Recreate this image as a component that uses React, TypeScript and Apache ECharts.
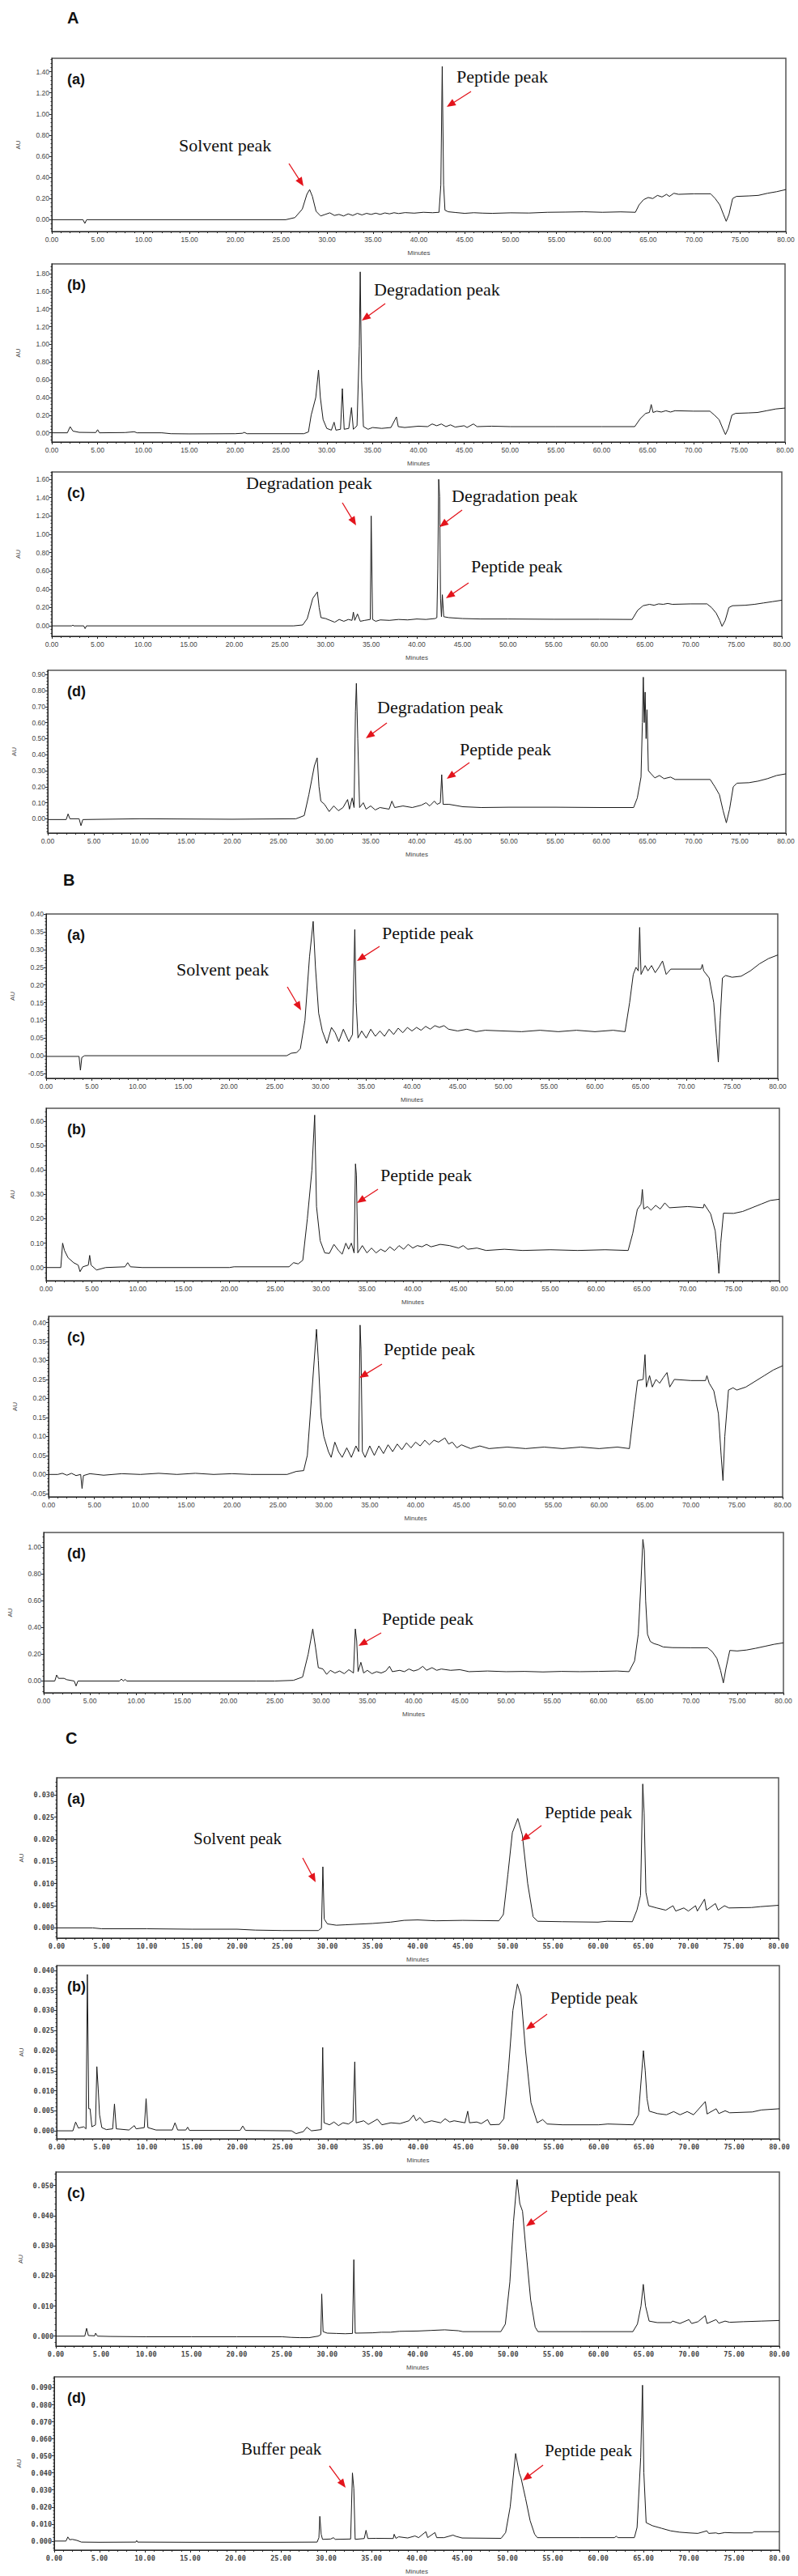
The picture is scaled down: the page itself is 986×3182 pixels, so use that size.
import React, { useEffect, useRef } from "react";
import * as echarts from "echarts";

// ---------- Data (time in minutes, absorbance in AU) ----------
const A_a: number[][] = [
  [0, 0], [3.4, 0], [3.6, -0.035], [3.8, 0], [25.5, 0], [26.5, 0.02], [27.3, 0.1], [27.8, 0.24], [28.1, 0.285], [28.4, 0.22],
  [28.8, 0.08], [29.3, 0.035], [29.8, 0.05], [30.3, 0.065], [30.8, 0.04], [31.3, 0.05], [31.8, 0.035], [32.3, 0.055], [32.8, 0.04],
  [33.3, 0.06], [33.8, 0.045], [34.3, 0.06], [34.8, 0.05], [35.3, 0.062], [35.8, 0.05], [36.3, 0.064], [36.8, 0.055], [37.3, 0.066],
  [37.8, 0.058], [38.5, 0.067], [39.5, 0.062], [40.5, 0.07], [41.5, 0.066], [42.2, 0.07], [42.4, 0.33], [42.55, 1.45], [42.7, 0.33],
  [42.85, 0.09], [43.2, 0.075], [44, 0.068], [45, 0.06], [46, 0.066], [47, 0.062], [48, 0.06], [50, 0.065], [52, 0.063], [54, 0.07],
  [56, 0.072], [58, 0.075], [60, 0.07], [62, 0.074], [63.6, 0.07], [64, 0.14], [64.5, 0.19], [65, 0.21], [65.5, 0.2], [66, 0.23],
  [66.5, 0.215], [67, 0.24], [67.3, 0.22], [67.8, 0.25], [68.3, 0.24], [70, 0.245], [71.8, 0.245], [72.3, 0.2], [72.8, 0.14],
  [73.2, 0.05], [73.5, -0.015], [73.8, 0.05], [74.2, 0.2], [74.6, 0.22], [76, 0.225], [77, 0.23], [78, 0.25], [79, 0.265], [80, 0.285],
];
const A_b: number[][] = [
  [0, 0], [1.7, 0], [2.0, 0.07], [2.3, 0.02], [3, 0.005], [4.8, 0.003], [5.0, 0.035], [5.2, 0], [8, 0.003], [9, 0.012], [9.3, 0],
  [12, 0], [13, -0.01], [15, -0.012], [20, -0.01], [20.8, -0.005], [21, 0.005], [21.3, -0.01], [27.5, -0.01], [28, 0.01], [28.3, 0.2],
  [28.8, 0.4], [29.1, 0.71], [29.3, 0.4], [29.6, 0.15], [30, 0.05], [30.5, 0.03], [30.8, 0.12], [31, 0.03], [31.5, 0.04], [31.7, 0.5],
  [31.9, 0.04], [32.4, 0.05], [32.7, 0.285], [32.9, 0.04], [33.3, 0.08], [33.55, 0.98], [33.65, 1.82], [33.8, 0.6], [34, 0.07],
  [34.5, 0.04], [35, 0.06], [36, 0.05], [37, 0.06], [37.6, 0.18], [37.8, 0.07], [38.5, 0.06], [40, 0.075], [41, 0.07], [41.5, 0.1],
  [42, 0.08], [42.5, 0.1], [43, 0.07], [43.5, 0.09], [44, 0.065], [45, 0.08], [45.3, 0.06], [46, 0.1], [46.4, 0.07], [48, 0.075],
  [50, 0.07], [55, 0.07], [60, 0.07], [63.6, 0.07], [64.2, 0.16], [64.8, 0.22], [65.2, 0.23], [65.4, 0.32], [65.6, 0.23], [66, 0.245],
  [66.5, 0.235], [67, 0.25], [67.5, 0.235], [68, 0.25], [70, 0.245], [71.8, 0.245], [72.3, 0.2], [72.8, 0.15], [73.2, 0.05],
  [73.5, -0.02], [73.8, 0.05], [74.2, 0.2], [74.6, 0.22], [76, 0.225], [77, 0.23], [78, 0.25], [79, 0.27], [80, 0.28],
];
const A_c: number[][] = [
  [0, 0], [2.2, 0], [2.3, 0.01], [2.4, 0], [3.5, 0], [3.65, -0.03], [3.8, 0], [26.5, 0], [27.5, 0.01], [28, 0.08], [28.6, 0.3],
  [29.1, 0.37], [29.3, 0.2], [29.5, 0.09], [30, 0.08], [30.5, 0.06], [31, 0.04], [31.5, 0.07], [32, 0.05], [32.5, 0.07], [32.9, 0.06],
  [33.05, 0.15], [33.2, 0.06], [33.5, 0.13], [33.8, 0.05], [34.3, 0.06], [34.9, 0.07], [35.0, 1.2], [35.15, 0.07], [35.5, 0.05],
  [36, 0.065], [37, 0.06], [38, 0.07], [39, 0.065], [40, 0.075], [41, 0.07], [42, 0.08], [42.2, 0.09], [42.3, 0.62], [42.4, 1.6],
  [42.5, 1.41], [42.6, 0.3], [42.7, 0.1], [42.8, 0.34], [42.95, 0.1], [43.5, 0.09], [45, 0.08], [47, 0.075], [50, 0.075], [55, 0.072],
  [60, 0.072], [63.6, 0.07], [64.2, 0.17], [64.8, 0.22], [65.5, 0.235], [66, 0.225], [66.5, 0.24], [67, 0.235], [67.5, 0.245],
  [68, 0.235], [70, 0.24], [71.8, 0.24], [72.3, 0.2], [72.8, 0.14], [73.2, 0.06], [73.45, -0.005], [73.8, 0.06], [74.2, 0.2],
  [74.6, 0.22], [76, 0.225], [77, 0.235], [78, 0.25], [79, 0.265], [80, 0.28],
];
const A_d: number[][] = [
  [0, -0.005], [2.0, -0.005], [2.2, 0.03], [2.4, 0.0], [3.4, 0.0], [3.6, -0.043], [3.8, -0.005], [10, 0], [20, -0.003], [26.9, 0],
  [27.8, 0.02], [28.3, 0.15], [28.9, 0.33], [29.2, 0.38], [29.4, 0.2], [29.6, 0.11], [30, 0.09], [30.5, 0.045], [31, 0.08],
  [31.5, 0.05], [32, 0.07], [32.5, 0.12], [32.7, 0.06], [33.0, 0.13], [33.2, 0.07], [33.35, 0.67], [33.45, 0.845], [33.6, 0.5],
  [33.8, 0.07], [34.2, 0.1], [34.5, 0.06], [35, 0.08], [35.5, 0.055], [36, 0.07], [37, 0.06], [37.3, 0.11], [37.6, 0.07],
  [38.5, 0.08], [39.5, 0.07], [40.5, 0.085], [41, 0.1], [41.4, 0.08], [41.9, 0.11], [42.2, 0.09], [42.55, 0.1], [42.7, 0.275],
  [42.85, 0.09], [43.5, 0.09], [45, 0.075], [47, 0.07], [50, 0.072], [55, 0.072], [60, 0.07], [63.5, 0.07], [63.9, 0.13],
  [64.3, 0.26], [64.45, 0.6], [64.55, 0.883], [64.65, 0.6], [64.75, 0.79], [64.85, 0.5], [64.95, 0.68], [65.1, 0.3], [65.4, 0.28],
  [65.8, 0.255], [66.3, 0.27], [66.8, 0.25], [67.5, 0.26], [68, 0.245], [70, 0.245], [71.8, 0.245], [72.3, 0.2], [72.8, 0.15],
  [73.2, 0.05], [73.55, -0.025], [73.9, 0.06], [74.3, 0.2], [74.7, 0.222], [76, 0.225], [77, 0.235], [78, 0.25], [79, 0.27], [80, 0.28],
];
const B_a: number[][] = [
  [0, -0.002], [3.6, -0.002], [3.75, -0.041], [3.9, -0.005], [4.2, 0], [26.3, 0], [26.8, 0.007], [27.4, 0.009], [27.8, 0.02],
  [28.3, 0.1], [28.8, 0.28], [29.2, 0.38], [29.45, 0.25], [29.8, 0.12], [30.2, 0.07], [30.7, 0.035], [31.2, 0.08], [31.6, 0.065],
  [32.0, 0.04], [32.5, 0.075], [33.1, 0.04], [33.5, 0.06], [33.75, 0.357], [33.9, 0.15], [34.1, 0.05], [34.5, 0.07], [35, 0.05],
  [35.5, 0.075], [36, 0.055], [36.5, 0.07], [37, 0.055], [37.5, 0.075], [38, 0.06], [38.5, 0.078], [39, 0.065], [39.5, 0.08],
  [40, 0.07], [40.5, 0.08], [41, 0.072], [41.5, 0.083], [42, 0.075], [42.5, 0.085], [43, 0.08], [43.5, 0.085], [44, 0.075],
  [45, 0.07], [46, 0.075], [47, 0.068], [48, 0.072], [50, 0.07], [52, 0.068], [54, 0.072], [56, 0.068], [58, 0.072], [60, 0.068],
  [62, 0.072], [63.3, 0.068], [63.8, 0.15], [64.2, 0.23], [64.5, 0.25], [64.75, 0.24], [64.9, 0.363], [65.05, 0.23], [65.5, 0.255],
  [65.8, 0.24], [66.2, 0.255], [66.6, 0.235], [67.0, 0.25], [67.4, 0.268], [67.8, 0.23], [68.3, 0.245], [70, 0.245], [71.6, 0.245],
  [71.75, 0.258], [71.9, 0.24], [72.5, 0.22], [73, 0.15], [73.3, 0.05], [73.5, -0.018], [73.7, 0.1], [73.95, 0.22], [74.3, 0.227],
  [75, 0.222], [76, 0.225], [77, 0.24], [78, 0.26], [79, 0.275], [80, 0.285],
];
const B_b: number[][] = [
  [0, 0], [1.6, 0], [1.8, 0.1], [2.0, 0.07], [2.4, 0.04], [3.0, 0.02], [3.5, 0.01], [3.7, -0.017], [4.0, 0.003], [4.6, 0.01],
  [4.75, 0.05], [4.9, 0.01], [5.5, -0.01], [6.5, 0], [8.6, 0.003], [8.9, 0.02], [9.2, 0.003], [10.5, 0], [20, 0], [20.5, 0.003],
  [26.5, 0.003], [27, 0.02], [27.5, 0.015], [28, 0.03], [28.5, 0.2], [29.0, 0.4], [29.3, 0.625], [29.5, 0.25], [29.9, 0.11],
  [30.4, 0.06], [30.9, 0.058], [31.4, 0.095], [31.9, 0.07], [32.3, 0.055], [32.7, 0.1], [33.0, 0.075], [33.3, 0.1], [33.6, 0.06],
  [33.75, 0.425], [33.85, 0.38], [34.0, 0.06], [34.5, 0.09], [35, 0.06], [35.5, 0.08], [36, 0.06], [36.5, 0.075], [37, 0.065],
  [37.5, 0.085], [38, 0.07], [38.5, 0.09], [39, 0.075], [39.5, 0.095], [40, 0.08], [40.5, 0.09], [41, 0.085], [41.5, 0.095],
  [42, 0.085], [43, 0.095], [44, 0.09], [45, 0.08], [45.5, 0.09], [46, 0.075], [47, 0.08], [48, 0.07], [50, 0.075], [52, 0.07],
  [55, 0.073], [58, 0.07], [61, 0.073], [63.5, 0.07], [64, 0.14], [64.5, 0.238], [64.9, 0.26], [65.05, 0.32], [65.2, 0.24],
  [65.6, 0.25], [66, 0.235], [66.5, 0.255], [67, 0.24], [67.5, 0.265], [68, 0.245], [70, 0.25], [71.7, 0.245], [71.8, 0.26],
  [72.5, 0.22], [73, 0.15], [73.25, 0.05], [73.4, -0.024], [73.6, 0.1], [73.9, 0.223], [75, 0.222], [76, 0.23], [77, 0.245],
  [78, 0.26], [79, 0.275], [80, 0.28],
];
const B_c: number[][] = [
  [0, 0], [1, 0], [1.5, 0.003], [2, -0.002], [2.5, 0.003], [3, -0.003], [3.5, 0], [3.65, -0.037], [3.8, -0.003], [4.5, 0.002],
  [6, -0.002], [8, 0.002], [10, 0], [12, 0.003], [14, 0], [16, 0.003], [18, 0], [20, 0.002], [22, 0], [26, 0], [27, 0.008],
  [27.8, 0.01], [28.2, 0.05], [28.8, 0.25], [29.2, 0.382], [29.4, 0.3], [29.7, 0.15], [30, 0.1], [30.5, 0.06], [30.8, 0.045],
  [31.2, 0.085], [31.6, 0.06], [32, 0.045], [32.5, 0.07], [33, 0.045], [33.5, 0.075], [33.8, 0.06], [33.95, 0.393], [34.05, 0.33],
  [34.2, 0.06], [34.5, 0.045], [35, 0.075], [35.5, 0.05], [36, 0.075], [36.5, 0.055], [37, 0.078], [37.5, 0.06], [38, 0.08],
  [38.5, 0.065], [39, 0.083], [39.5, 0.07], [40, 0.085], [40.5, 0.075], [41, 0.09], [41.5, 0.078], [42, 0.09], [42.5, 0.085],
  [43.2, 0.096], [43.6, 0.08], [44, 0.085], [44.5, 0.07], [45, 0.078], [46, 0.068], [47, 0.075], [48, 0.068], [50, 0.072],
  [52, 0.068], [54, 0.072], [56, 0.068], [58, 0.072], [60, 0.068], [62, 0.072], [63.3, 0.068], [63.8, 0.17], [64.2, 0.247],
  [64.8, 0.25], [65.0, 0.315], [65.15, 0.23], [65.5, 0.26], [65.8, 0.23], [66.2, 0.25], [66.6, 0.24], [67, 0.255], [67.4, 0.268],
  [67.7, 0.23], [68.2, 0.25], [70, 0.247], [71.6, 0.247], [71.75, 0.26], [72, 0.24], [72.5, 0.22], [73, 0.16], [73.3, 0.05],
  [73.5, -0.016], [73.7, 0.1], [74.1, 0.222], [74.6, 0.228], [75, 0.222], [76, 0.23], [77, 0.245], [78, 0.26], [79, 0.275], [80, 0.286],
];
const B_d: number[][] = [
  [0, 0], [1.2, 0], [1.4, 0.045], [1.6, 0.02], [2.2, 0.02], [2.5, 0.01], [3.3, 0], [3.5, -0.037], [3.7, 0], [8.2, 0], [8.4, 0.015],
  [8.6, 0], [8.8, 0.012], [9, 0], [23, 0], [25, 0], [27, 0.005], [28, 0.03], [28.6, 0.2], [29.1, 0.39], [29.4, 0.25], [29.7, 0.1],
  [30.2, 0.09], [30.6, 0.05], [31, 0.08], [31.5, 0.06], [32, 0.075], [32.5, 0.055], [33, 0.085], [33.5, 0.06], [33.7, 0.39],
  [33.85, 0.3], [34, 0.07], [34.3, 0.14], [34.6, 0.06], [35, 0.08], [35.5, 0.055], [36, 0.07], [36.5, 0.06], [37, 0.075],
  [37.4, 0.11], [37.7, 0.07], [38.5, 0.08], [39, 0.07], [39.5, 0.09], [40, 0.075], [40.5, 0.085], [41, 0.11], [41.4, 0.08],
  [42, 0.1], [42.5, 0.08], [43, 0.09], [44, 0.08], [45, 0.085], [46, 0.07], [48, 0.075], [50, 0.07], [52, 0.072], [54, 0.068],
  [56, 0.072], [58, 0.07], [60, 0.072], [62, 0.075], [63.3, 0.07], [63.9, 0.15], [64.3, 0.35], [64.6, 0.75], [64.8, 1.06],
  [64.95, 0.98], [65.1, 0.6], [65.3, 0.35], [65.6, 0.296], [66, 0.28], [66.5, 0.27], [67, 0.255], [68, 0.25], [70, 0.249],
  [71.8, 0.249], [72.3, 0.22], [72.8, 0.17], [73.2, 0.08], [73.5, -0.014], [73.8, 0.1], [74.2, 0.229], [75, 0.225], [76, 0.232],
  [77, 0.245], [78, 0.26], [79, 0.275], [80, 0.286],
];
const C_a: number[][] = [
  [0, 0], [4, 0], [5, -0.0002], [10, -0.0002], [15, -0.0003], [20, -0.0003], [22, -0.0005], [25, -0.0006], [29, -0.0006],
  [29.35, 0], [29.5, 0.0138], [29.65, 0.002], [30, 0.0009], [31, 0.0006], [32, 0.0007], [33, 0.0008], [35, 0.001], [37, 0.0013],
  [38.5, 0.0017], [40, 0.0018], [42, 0.0016], [45, 0.0017], [49, 0.0016], [49.5, 0.003], [50, 0.012], [50.5, 0.0215],
  [51.1, 0.0247], [51.6, 0.021], [52.2, 0.01], [52.8, 0.0025], [53.3, 0.0015], [56, 0.0014], [60, 0.0013], [61, 0.0015],
  [63.8, 0.0014], [64.3, 0.004], [64.7, 0.0073], [64.95, 0.0325], [65.1, 0.026], [65.3, 0.008], [65.6, 0.005], [66.5, 0.0045],
  [67.5, 0.004], [68.3, 0.005], [68.6, 0.0038], [69.5, 0.0045], [70, 0.0038], [70.8, 0.005], [71, 0.0038], [71.8, 0.0065],
  [72, 0.004], [73, 0.0055], [73.3, 0.004], [74, 0.005], [74.5, 0.0045], [77, 0.0046], [78, 0.0048], [80, 0.0051],
];
const C_b: number[][] = [
  [0, 0], [1.8, 0], [2.1, 0.0022], [2.4, 0.0007], [3.0, 0.001], [3.25, 0.0005], [3.4, 0.039], [3.55, 0.0055], [3.7, 0.0055],
  [3.9, 0.001], [4.3, 0.0015], [4.45, 0.016], [4.6, 0.0105], [4.75, 0.004], [5, 0.0008], [5.5, 0.0003], [6.2, 0.0005],
  [6.4, 0.0067], [6.6, 0.0005], [8, 0.0002], [8.6, 0.0013], [8.8, 0.0005], [9.7, 0.0008], [9.9, 0.008], [10.1, 0.0008],
  [11, 0.0002], [12.8, 0.0002], [13.1, 0.002], [13.4, 0.0002], [14.3, 0.0002], [14.5, 0.0009], [14.7, 0.0001], [20.3, 0.0001],
  [20.6, 0.0012], [20.9, 0.0001], [26, 0], [26.5, -0.0007], [27.3, -0.0002], [27.7, 0.0009], [28.2, 0], [29.3, 0.0003],
  [29.45, 0.0208], [29.6, 0.002], [30.2, 0.0015], [30.7, 0.0022], [31.2, 0.0013], [31.7, 0.002], [32.3, 0.0017], [32.8, 0.0025],
  [33.0, 0.0172], [33.15, 0.002], [34, 0.0025], [34.5, 0.0016], [35.5, 0.0029], [36, 0.0015], [37, 0.002], [38, 0.0018],
  [39, 0.0025], [39.5, 0.0039], [39.8, 0.0025], [40.2, 0.0033], [40.7, 0.002], [41.5, 0.0025], [42.5, 0.002], [43, 0.003],
  [43.5, 0.0022], [44, 0.0025], [45.2, 0.002], [45.5, 0.0049], [45.7, 0.002], [46.5, 0.0022], [47, 0.0018], [47.7, 0.0028],
  [48, 0.0015], [49, 0.0016], [49.5, 0.003], [50, 0.015], [50.5, 0.03], [51.0, 0.0366], [51.4, 0.0337], [51.9, 0.02],
  [52.5, 0.007], [53.2, 0.002], [53.8, 0.0028], [54.3, 0.0017], [56, 0.0015], [60, 0.0015], [61, 0.0017], [63.8, 0.0015],
  [64.4, 0.004], [64.95, 0.02], [65.15, 0.015], [65.35, 0.008], [65.6, 0.0049], [66.5, 0.0043], [67.5, 0.004], [68.3, 0.0048],
  [69, 0.004], [69.8, 0.0048], [70.5, 0.004], [71.8, 0.0073], [72, 0.0042], [73, 0.0055], [73.3, 0.0043], [74, 0.005],
  [74.5, 0.0045], [77, 0.0047], [78, 0.0052], [80, 0.0055],
];
const C_c: number[][] = [
  [0, 0], [3.2, 0], [3.4, 0.0026], [3.6, 0.0002], [4.3, 0.0001], [4.4, 0.001], [4.6, 0], [6, -0.0001], [10, -0.0002],
  [15, -0.0002], [20, -0.0002], [25, -0.0002], [26, -0.0004], [27, -0.0005], [28, -0.0005], [29, 0], [29.3, 0.0005],
  [29.4, 0.014], [29.55, 0.0015], [30, 0.001], [31, 0.0009], [32, 0.0008], [32.8, 0.0009], [32.95, 0.0254], [33.1, 0.001],
  [35, 0.0011], [36, 0.0013], [37, 0.0013], [38, 0.0016], [40, 0.0017], [41.5, 0.0019], [43, 0.0021], [44.5, 0.0018],
  [45, 0.0015], [49.2, 0.0015], [49.7, 0.004], [50.2, 0.018], [50.6, 0.038], [51.0, 0.052], [51.3, 0.044], [51.6, 0.0415],
  [52, 0.028], [52.5, 0.012], [53, 0.003], [53.3, 0.0015], [58, 0.0015], [63.8, 0.0015], [64.3, 0.004], [64.7, 0.01],
  [64.95, 0.0172], [65.2, 0.01], [65.6, 0.005], [66.5, 0.0045], [68, 0.0045], [68.2, 0.005], [69, 0.0042], [70, 0.0055],
  [70.3, 0.0042], [71, 0.0048], [71.8, 0.0068], [72, 0.0042], [73, 0.0055], [73.3, 0.0043], [74, 0.005], [74.5, 0.0046],
  [76, 0.0048], [78, 0.005], [80, 0.0052],
];
const C_d: number[][] = [
  [0, 0], [1.3, 0], [1.5, 0.0024], [1.7, 0.0008], [2.0, 0.001], [2.5, 0.0004], [3, -0.0006], [5, -0.0007], [9, -0.0006],
  [9.1, 0.0003], [9.2, -0.0006], [15, -0.0007], [20, -0.0007], [25, -0.0007], [29, -0.0006], [29.2, 0.002], [29.3, 0.0145],
  [29.45, 0.004], [29.6, 0.001], [30.5, 0.0012], [30.8, 0.002], [31, 0.001], [32.7, 0.0012], [32.9, 0.04], [33.05, 0.031],
  [33.2, 0.001], [34.2, 0.0015], [34.4, 0.0063], [34.6, 0.0015], [35.5, 0.0016], [37.4, 0.0015], [37.5, 0.004], [37.7, 0.0016],
  [38, 0.0025], [39, 0.0018], [39.8, 0.003], [40.2, 0.002], [41, 0.0055], [41.2, 0.002], [42, 0.005], [42.2, 0.002], [43, 0.002],
  [44, 0.0035], [44.3, 0.0028], [45, 0.0018], [49.3, 0.0016], [49.8, 0.005], [50.3, 0.02], [50.9, 0.0514], [51.3, 0.04],
  [51.5, 0.037], [52, 0.025], [52.5, 0.012], [53, 0.004], [53.3, 0.002], [58, 0.002], [61.8, 0.002], [62, 0.0028], [62.2, 0.002],
  [64, 0.002], [64.3, 0.008], [64.7, 0.049], [64.9, 0.0915], [65.05, 0.04], [65.3, 0.0108], [66, 0.009], [67, 0.0075],
  [68, 0.006], [69, 0.0052], [70, 0.0048], [71, 0.0045], [72, 0.006], [72.2, 0.0045], [73, 0.0048], [73.3, 0.0043], [74, 0.005],
  [75, 0.0048], [77, 0.0048], [77.2, 0.0055], [80, 0.0055],
];

// y-axis major tick labels per panel
const ticksAa = [0, 0.2, 0.4, 0.6, 0.8, 1.0, 1.2, 1.4];
const ticksAb = [0, 0.2, 0.4, 0.6, 0.8, 1.0, 1.2, 1.4, 1.6, 1.8];
const ticksAc = [0, 0.2, 0.4, 0.6, 0.8, 1.0, 1.2, 1.4, 1.6];
const ticksAd = [0, 0.1, 0.2, 0.3, 0.4, 0.5, 0.6, 0.7, 0.8, 0.9];
const ticksBa = [-0.05, 0, 0.05, 0.1, 0.15, 0.2, 0.25, 0.3, 0.35, 0.4];
const ticksBb = [0, 0.1, 0.2, 0.3, 0.4, 0.5, 0.6];
const ticksBc = [-0.05, 0, 0.05, 0.1, 0.15, 0.2, 0.25, 0.3, 0.35, 0.4];
const ticksBd = [0, 0.2, 0.4, 0.6, 0.8, 1.0];
const ticksCa = [0, 0.005, 0.01, 0.015, 0.02, 0.025, 0.03];
const ticksCb = [0, 0.005, 0.01, 0.015, 0.02, 0.025, 0.03, 0.035, 0.04];
const ticksCc = [0, 0.01, 0.02, 0.03, 0.04, 0.05];
const ticksCd = [0, 0.01, 0.02, 0.03, 0.04, 0.05, 0.06, 0.07, 0.08, 0.09];

// y-axis extent [min, max] per panel
const rangeAa = [-0.112, 1.527];
const rangeAb = [-0.104, 1.91];
const rangeAc = [-0.114, 1.68];
const rangeAd = [-0.089, 0.926];
const rangeBa = [-0.064, 0.401];
const rangeBb = [-0.054, 0.653];
const rangeBc = [-0.059, 0.416];
const rangeBd = [-0.088, 1.112];
const rangeCa = [-0.0023, 0.0339];
const rangeCb = [-0.002, 0.0412];
const rangeCc = [-0.0033, 0.0545];
const rangeCd = [-0.0053, 0.0964];

const panelLetters = ["(a)", "(b)", "(c)", "(d)"];
const groupLetters = ["A", "B", "C"];

// ---------- Layout (pixel frames: left, top, right, bottom) ----------
const FRAMES = [
  [64, 72, 971, 286], [64, 326, 970, 546], [64, 583, 966, 786], [59, 828, 971, 1029],
  [57, 1129, 961, 1332], [57, 1369, 963, 1582], [60, 1626, 967, 1849], [54, 1893, 968, 2091],
  [70, 2196, 962, 2394], [70, 2428, 963, 2642], [69, 2683, 963, 2898], [67, 2936, 963, 3150],
];
const GROUP_POS = [[83, 12], [78, 1077], [81, 2137]];

const RED = "#e3141c";
type Note = { text: string; x: number; y: number; a: number[] };
const NOTES: Note[][] = [
  [{ text: "Solvent peak", x: 221, y: 168, a: [357, 202, 375, 230] }, { text: "Peptide peak", x: 564, y: 83, a: [582, 113, 552, 132] }],
  [{ text: "Degradation peak", x: 462, y: 346, a: [476, 375, 447, 396] }],
  [
    { text: "Degradation peak", x: 304, y: 585, a: [423, 621, 440, 649] },
    { text: "Degradation peak", x: 558, y: 601, a: [571, 630, 543, 651] },
    { text: "Peptide peak", x: 582, y: 688, a: [579, 720, 551, 739] },
  ],
  [{ text: "Degradation peak", x: 466, y: 862, a: [478, 893, 452, 912] }, { text: "Peptide peak", x: 568, y: 914, a: [580, 942, 552, 962] }],
  [{ text: "Solvent peak", x: 218, y: 1186, a: [355, 1219, 372, 1248] }, { text: "Peptide peak", x: 472, y: 1141, a: [469, 1169, 441, 1187] }],
  [{ text: "Peptide peak", x: 470, y: 1440, a: [467, 1469, 441, 1486] }],
  [{ text: "Peptide peak", x: 474, y: 1655, a: [472, 1685, 444, 1702] }],
  [{ text: "Peptide peak", x: 472, y: 1988, a: [471, 2017, 443, 2033] }],
  [{ text: "Solvent peak", x: 239, y: 2260, a: [374, 2295, 390, 2325] }, { text: "Peptide peak", x: 673, y: 2228, a: [669, 2255, 644, 2274] }],
  [{ text: "Peptide peak", x: 680, y: 2457, a: [676, 2488, 650, 2507] }],
  [{ text: "Peptide peak", x: 680, y: 2702, a: [676, 2731, 650, 2750] }],
  [{ text: "Buffer peak", x: 298, y: 3014, a: [407, 3046, 427, 3073] }, { text: "Peptide peak", x: 673, y: 3016, a: [671, 3045, 646, 3064] }],
];

const SERIES = [A_a, A_b, A_c, A_d, B_a, B_b, B_c, B_d, C_a, C_b, C_c, C_d];
const TICKS = [ticksAa, ticksAb, ticksAc, ticksAd, ticksBa, ticksBb, ticksBc, ticksBd, ticksCa, ticksCb, ticksCc, ticksCd];
const RANGES = [rangeAa, rangeAb, rangeAc, rangeAd, rangeBa, rangeBb, rangeBc, rangeBd, rangeCa, rangeCb, rangeCc, rangeCd];

function minorValues(min: number, max: number, step: number) {
  const s = step / 5;
  const out: number[] = [];
  let k = Math.ceil(min / s - 1e-9);
  while (k * s <= max + 1e-12) {
    out.push(+(k * s).toFixed(7));
    k++;
  }
  return out;
}

function arrow(a: number[]) {
  const [x1, y1, x2, y2] = a;
  const dx = x2 - x1, dy = y2 - y1;
  const L = Math.hypot(dx, dy);
  const ux = dx / L, uy = dy / L;
  const hl = 11, hw = 4.5;
  const bx = x2 - ux * hl, by = y2 - uy * hl;
  return [
    { type: "line", z: 50, shape: { x1, y1, x2: bx + ux * 2, y2: by + uy * 2 }, style: { stroke: RED, lineWidth: 1.3 } },
    {
      type: "polygon", z: 50,
      shape: { points: [[x2, y2], [bx - uy * hw, by + ux * hw], [bx + uy * hw, by - ux * hw]] },
      style: { fill: RED },
    },
  ];
}

export default function App() {
  const ref = useRef<HTMLDivElement>(null);
  useEffect(() => {
    if (!ref.current) return;
    const chart = echarts.init(ref.current, null, { renderer: "svg" });
    const grids: any[] = [];
    const xAxes: any[] = [];
    const yAxes: any[] = [];
    const series: any[] = [];
    const elements: any[] = [];

    SERIES.forEach((data, i) => {
      const [l, t, r, b] = FRAMES[i];
      const isC = i >= 8;
      const dec = isC ? 3 : 2;
      const ticks = TICKS[i];
      const [ymin, ymax] = RANGES[i];
      const step = ticks[1] - ticks[0];
      const labelFont = isC
        ? { fontSize: 8.5, fontFamily: "DejaVu Sans Mono", fontWeight: "bold", color: "#444" }
        : { fontSize: 8.5, fontFamily: "Liberation Sans", color: "#444" };
      grids.push({
        left: l, top: t, width: r - l, height: b - t, show: true,
        borderColor: "#555", borderWidth: 1.5, backgroundColor: "transparent",
      });
      xAxes.push({
        type: "value", gridIndex: i, min: 0, max: 80, interval: 5,
        name: "Minutes", nameLocation: "middle", nameGap: 22,
        nameTextStyle: { fontSize: 8, fontFamily: "Liberation Sans", color: "#444" },
        axisLine: { show: true, onZero: false, lineStyle: { color: "#222", width: 1 } },
        axisTick: { show: true, length: 3, lineStyle: { color: "#222" } },
        minorTick: { show: true, splitNumber: 5, length: 2, lineStyle: { color: "#222" } },
        splitLine: { show: false },
        axisLabel: { ...labelFont, margin: 5, formatter: (v: number) => v.toFixed(2) },
      });
      yAxes.push({
        type: "value", gridIndex: i, min: ymin, max: ymax,
        name: "AU", nameLocation: "middle", nameGap: 38, nameRotate: 90,
        nameTextStyle: { fontSize: 8, fontFamily: "Liberation Sans", color: "#444" },
        axisLine: { show: true, lineStyle: { color: "#222", width: 1 } },
        axisTick: { show: true, length: 3, customValues: ticks, lineStyle: { color: "#222" } },
        splitLine: { show: false },
        axisLabel: { ...labelFont, margin: 3, customValues: ticks, formatter: (v: number) => v.toFixed(dec) },
      });
      yAxes.push({
        type: "value", gridIndex: i, min: ymin, max: ymax, position: "left",
        axisLine: { show: false },
        axisTick: { show: true, length: 1.5, customValues: minorValues(ymin, ymax, step), lineStyle: { color: "#333" } },
        axisLabel: { show: false },
        splitLine: { show: false },
      });
      series.push({
        type: "line", xAxisIndex: i, yAxisIndex: i * 2, data, symbol: "none",
        lineStyle: { color: "#1a1a1a", width: 1 }, silent: true,
      });
      elements.push({
        type: "text", x: 83, y: t + 17, z: 60,
        style: { text: panelLetters[i % 4], fontSize: 18, fontWeight: "bold", fontFamily: "Liberation Sans", fill: "#111", verticalAlign: "top" },
      });
      NOTES[i].forEach((n) => {
        elements.push({
          type: "text", x: n.x, y: n.y, z: 60,
          style: { text: n.text, fontSize: isC ? 21 : 22, fontFamily: "Liberation Serif", fill: "#111", verticalAlign: "top" },
        });
        elements.push(...arrow(n.a));
      });
    });
    GROUP_POS.forEach((p, g) => {
      elements.push({
        type: "text", x: p[0], y: p[1], z: 60,
        style: { text: groupLetters[g], fontSize: 20, fontWeight: "bold", fontFamily: "Liberation Sans", fill: "#111", verticalAlign: "top" },
      });
    });

    chart.setOption({
      animation: false,
      backgroundColor: "#ffffff",
      grid: grids,
      xAxis: xAxes,
      yAxis: yAxes,
      series,
      graphic: { elements },
    });
    return () => chart.dispose();
  }, []);
  return <div ref={ref} style={{ position: "absolute", left: 0, top: 0, width: 986, height: 3182 }} />;
}
